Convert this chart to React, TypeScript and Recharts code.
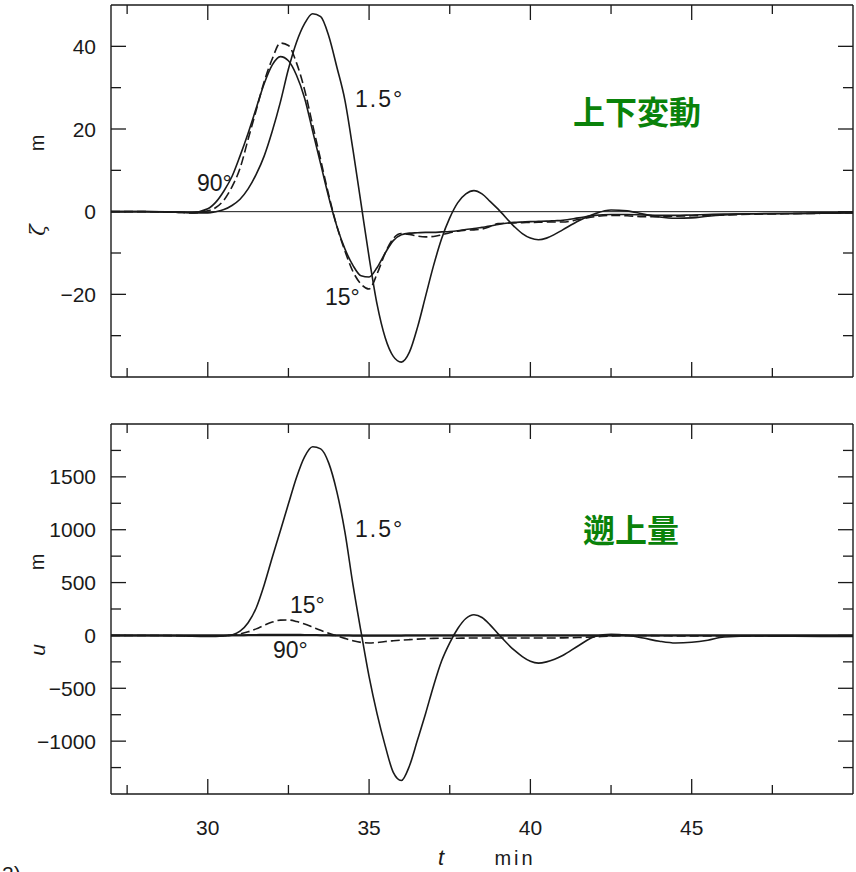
import { LineChart, Line, XAxis, YAxis, ReferenceLine } from "recharts";

// time axis, minutes
const times = [
  27, 28, 29, 29.5, 30, 30.25, 30.5, 30.75, 31, 31.25, 31.5, 31.75, 32, 32.25, 32.5, 32.75,
  33, 33.25, 33.5, 33.75, 34, 34.25, 34.5, 34.75, 35, 35.25, 35.5, 35.75, 36, 36.25, 36.5,
  36.75, 37, 37.25, 37.5, 37.75, 38, 38.25, 38.5, 38.75, 39, 39.5, 39.75, 40, 40.25, 40.5,
  40.75, 41, 41.5, 42, 42.5, 43, 43.5, 44, 44.5, 45, 45.5, 46, 47, 48, 49, 50,
];

// vertical displacement ζ (m) for slope angles 1.5°, 15°, 90°
const zeta1p5 = [
  0, 0, -0.1, -0.3, -0.3, 0, 0.5, 1.5, 3, 5.5, 9, 13.5, 19.5, 26.5, 34.5, 41,
  45.5, 47.9, 47.2, 42.5, 35, 27, 15, 2, -11, -22.5, -30.5, -35, -36.4, -34, -28,
  -20.5, -13, -6.5, -1.5, 2.2, 4.3, 5.1, 4.3, 2.5, 0.6, -3.6, -5.3, -6.4, -6.8, -6.4,
  -5.5, -4.4, -2.2, -0.5, 0.4, 0.2, -0.6, -1.3, -1.6, -1.5, -1.1, -0.8, -0.5, -0.5, -0.4, -0.3,
];
const zeta15 = [
  0, 0, -0.1, -0.3, 0.2, 1, 2.8, 6, 10.5, 17.5, 24.5, 31.5, 37, 40.8, 40.2, 36,
  29.5, 21, 12.5, 4, -3.5, -9.5, -14.5, -17.5, -18.7, -15, -10, -6.5, -5.3, -5.5, -5.9,
  -6.1, -6, -5.6, -5.1, -4.7, -4.5, -4.4, -4.2, -3.6, -2.9, -2.7, -2.65, -2.6, -2.55, -2.5,
  -2.5, -2.5, -1.9, -1.2, -0.9, -1.0, -1.2, -1.2, -1.1, -1.0, -0.9, -0.8, -0.6, -0.5, -0.4, -0.3,
];
const zeta90 = [
  0, 0, -0.1, -0.2, 0.7, 2.3, 5, 8.5, 13.5, 19, 25, 31, 35.5, 37.5, 36.5, 33,
  27.5, 19.5, 11.5, 3.5, -3.5, -9, -13, -15.5, -15.8, -13.5, -10, -7, -5.6, -5.2, -5.1,
  -5, -5, -4.9, -4.8, -4.6, -4.3, -4.1, -3.8, -3.5, -3.1, -2.6, -2.5, -2.4, -2.35, -2.3,
  -2.2, -2.1, -1.5, -0.9, -0.7, -0.7, -0.8, -0.9, -0.9, -0.8, -0.7, -0.6, -0.5, -0.4, -0.3, -0.2,
];

// run-up u (m) for the same angles
const run1p5 = [
  0, 0, -3, -8, -10, -10, -6, 5, 40, 120, 260, 480, 740, 990, 1245, 1495,
  1690, 1785, 1765, 1630, 1360, 980, 480, 35, -390, -745, -1045, -1295, -1372, -1235, -990,
  -740, -475, -240, -70, 65, 160, 195, 170, 100, 15, -140, -200, -245, -262, -250,
  -225, -190, -95, -10, 10, 2, -25, -55, -72, -65, -45, -15, -5, -8, -10, -10,
];
const run15 = [
  0, 0, -2, -5, -6, -5, -3, 2, 14, 34, 62, 96, 126, 145, 146, 132,
  108, 78, 48, 20, -4, -28, -50, -66, -71, -67, -58, -51, -45, -40, -35,
  -31, -28, -27, -26, -26, -25, -25, -25, -25, -25, -25, -25, -24, -24, -24,
  -24, -23, -20, -14, -6, -2, -2, -3, -4, -5, -5, -5, -5, -5, -5, -5,
];
const run90 = [
  0, 0, 0, 0, 0, 0, 0, 1, 2, 3, 5, 6, 7, 7, 7, 6,
  5, 4, 2, 1, 0, -1, -2, -3, -3, -3, -2, -2, -2, -1, -1,
  -1, -1, -1, -1, 0, 0, 0, 0, 0, 0, 0, 0, 0, 0, 0,
  0, 0, 0, 0, 0, 0, 0, 0, 0, 0, 0, 0, 0, 0, 0, 0,
];

const timeTicks = [27.5, 30, 32.5, 35, 37.5, 40, 42.5, 45, 47.5];
const zetaTicks = [-30, -20, -10, 0, 10, 20, 30, 40];
const runTicks = [-1250, -1000, -750, -500, -250, 0, 250, 500, 750, 1000, 1250, 1500, 1750];

const zetaRows = times.map((t, i) => ({ t, a: zeta1p5[i], b: zeta15[i], c: zeta90[i] }));
const runRows = times.map((t, i) => ({ t, a: run1p5[i], b: run15[i], c: run90[i] }));

const INK = "#1a1a1a";
const NUM_FONT = '"Liberation Sans Narrow", "Liberation Sans", Arial, sans-serif';
const W = 856;

const fmt = (v: number) => (v < 0 ? "\u2212" + Math.abs(v) : String(v));

// inward tick marks on every side of the frame; labels only where asked
const leftTick = (major: (v: number) => boolean) => (p: any) => {
  const v = p.payload.value;
  const big = major(v);
  return (
    <g>
      <line x1={p.x} x2={p.x + (big ? 15 : 10)} y1={p.y} y2={p.y} stroke={INK} strokeWidth={1.3} />
      {big && (
        <text x={p.x - 15} y={p.y} dy="0.36em" textAnchor="end" fontSize={21} fontFamily={NUM_FONT} fill={INK}>
          {fmt(v)}
        </text>
      )}
    </g>
  );
};
const rightTick = (major: (v: number) => boolean) => (p: any) => {
  const big = major(p.payload.value);
  return <line x1={p.x} x2={p.x - (big ? 15 : 10)} y1={p.y} y2={p.y} stroke={INK} strokeWidth={1.3} />;
};
const isMajorTime = (v: number) => v % 5 === 0;
const bottomTick = (labels: boolean) => (p: any) => {
  const v = p.payload.value;
  const big = isMajorTime(v);
  return (
    <g>
      <line x1={p.x} x2={p.x} y1={p.y} y2={p.y - (big ? 15 : 9)} stroke={INK} strokeWidth={1.3} />
      {labels && big && (
        <text x={p.x} y={p.y + 41} textAnchor="middle" fontSize={21} fontFamily={NUM_FONT} fill={INK}>
          {v}
        </text>
      )}
    </g>
  );
};
const topTick = (p: any) => {
  const big = isMajorTime(p.payload.value);
  return <line x1={p.x} x2={p.x} y1={p.y} y2={p.y + (big ? 15 : 9)} stroke={INK} strokeWidth={1.3} />;
};

function Panel({
  rows,
  domain,
  ticks,
  major,
  height,
  margin,
  timeLabels,
  heavyZero,
}: {
  rows: any[];
  domain: [number, number];
  ticks: number[];
  major: (v: number) => boolean;
  height: number;
  margin: { top: number; right: number; bottom: number; left: number };
  timeLabels: boolean;
  heavyZero: boolean;
}) {
  const axisLine = { stroke: INK, strokeWidth: 1.4 };
  // axes are 1px thick so the frame sits on the margin edge
  return (
    <LineChart width={W} height={height} data={rows} margin={margin}>
      <XAxis
        xAxisId="b"
        dataKey="t"
        type="number"
        domain={[27, 50]}
        allowDataOverflow
        ticks={timeTicks}
        interval={0}
        height={1}
        tickSize={0}
        tickMargin={0}
        tickLine={false}
        axisLine={axisLine}
        tick={bottomTick(timeLabels)}
      />
      <XAxis
        xAxisId="t"
        orientation="top"
        dataKey="t"
        type="number"
        domain={[27, 50]}
        allowDataOverflow
        ticks={timeTicks}
        interval={0}
        height={1}
        tickSize={0}
        tickMargin={0}
        tickLine={false}
        axisLine={axisLine}
        tick={topTick}
      />
      <YAxis
        yAxisId="l"
        type="number"
        domain={domain}
        allowDataOverflow
        ticks={ticks}
        interval={0}
        width={1}
        tickSize={0}
        tickMargin={0}
        tickLine={false}
        axisLine={axisLine}
        tick={leftTick(major)}
      />
      <YAxis
        yAxisId="r"
        orientation="right"
        type="number"
        domain={domain}
        allowDataOverflow
        ticks={ticks}
        interval={0}
        width={1}
        tickSize={0}
        tickMargin={0}
        tickLine={false}
        axisLine={axisLine}
        tick={rightTick(major)}
      />
      <ReferenceLine xAxisId="b" yAxisId="l" y={0} stroke={INK} strokeWidth={heavyZero ? 1.8 : 1} />
      <Line xAxisId="b" yAxisId="l" dataKey="c" type="monotone" stroke={INK} strokeWidth={heavyZero ? 2 : 1.6} dot={false} activeDot={false} isAnimationActive={false} />
      <Line xAxisId="b" yAxisId="l" dataKey="b" type="monotone" stroke={INK} strokeWidth={1.6} strokeDasharray="9 4" dot={false} activeDot={false} isAnimationActive={false} />
      <Line xAxisId="b" yAxisId="l" dataKey="a" type="monotone" stroke={INK} strokeWidth={1.6} dot={false} activeDot={false} isAnimationActive={false} />
    </LineChart>
  );
}

const label = { fontFamily: NUM_FONT, fontSize: 23, fill: INK } as const;
const green = { fontFamily: '"Noto Sans CJK JP", sans-serif', fontSize: 32, fontWeight: 700, fill: "#0a820a" } as const;

export default function App() {
  return (
    <div style={{ position: "absolute", left: 0, top: 0, width: W, height: 872, background: "#fff", overflow: "hidden" }}>
      <div style={{ position: "absolute", left: 0, top: 0 }}>
        <Panel
          rows={zetaRows}
          domain={[-40, 50]}
          ticks={zetaTicks}
          major={(v) => v % 20 === 0}
          height={400}
          margin={{ top: 4, right: 2, bottom: 22, left: 110 }}
          timeLabels={false}
          heavyZero={false}
        />
      </div>
      <div style={{ position: "absolute", left: 0, top: 400 }}>
        <Panel
          rows={runRows}
          domain={[-1500, 2000]}
          ticks={runTicks}
          major={(v) => v % 500 === 0}
          height={472}
          margin={{ top: 23, right: 2, bottom: 77, left: 110 }}
          timeLabels={true}
          heavyZero={true}
        />
      </div>
      <svg width={W} height={872} style={{ position: "absolute", left: 0, top: 0, pointerEvents: "none" }}>
        {/* axis titles */}
        <text transform="translate(44,143) rotate(-90)" textAnchor="middle" fontSize={20} fontFamily={NUM_FONT} fill={INK}>m</text>
        <text transform="translate(45,230) rotate(-90)" textAnchor="middle" fontSize={21} fontStyle="italic" fontFamily="'DejaVu Serif', serif" fill={INK}>ζ</text>
        <text transform="translate(44,562) rotate(-90)" textAnchor="middle" fontSize={20} fontFamily={NUM_FONT} fill={INK}>m</text>
        <text transform="translate(45,650) rotate(-90)" textAnchor="middle" fontSize={21} fontStyle="italic" fontFamily={NUM_FONT} fill={INK}>u</text>
        <text x={441} y={865} textAnchor="middle" fontSize={22} fontStyle="italic" fontFamily={NUM_FONT} fill={INK}>t</text>
        <text x={515} y={865} textAnchor="middle" fontSize={20} letterSpacing={3} fontFamily={NUM_FONT} fill={INK}>min</text>
        <text x={2} y={881} fontSize={21} fontFamily={NUM_FONT} fill={INK}>2)</text>

        {/* curve labels, upper panel */}
        <text x={355} y={107} letterSpacing={2} {...label}>1.5°</text>
        <text x={197} y={191} {...label}>90°</text>
        <text x={325} y={305} {...label}>15°</text>
        <text x={637} y={124} textAnchor="middle" {...green}>上下変動</text>

        {/* curve labels, lower panel */}
        <text x={355} y={537} letterSpacing={2} {...label}>1.5°</text>
        <text x={290} y={613} {...label}>15°</text>
        <text x={273} y={658} {...label}>90°</text>
        <text x={631} y={542} textAnchor="middle" {...green}>遡上量</text>
      </svg>
    </div>
  );
}
